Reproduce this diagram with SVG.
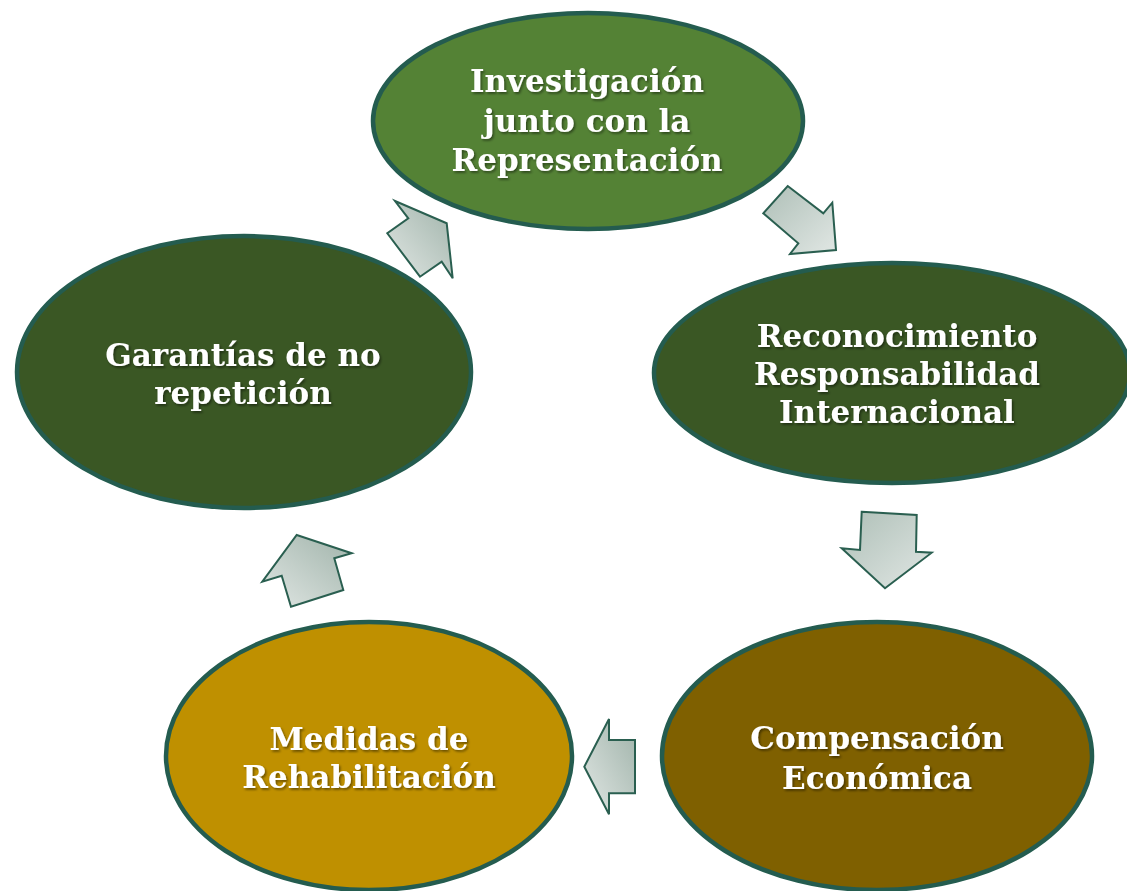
<svg xmlns="http://www.w3.org/2000/svg" width="1127" height="891" viewBox="0 0 1127 891">
  <defs>
    <linearGradient id="gA" x1="0" y1="1" x2="1" y2="0">
      <stop offset="0" stop-color="#e1e7e4"/>
      <stop offset="1" stop-color="#a0b3aa"/>
    </linearGradient>
    <linearGradient id="gB" x1="0" y1="0" x2="1" y2="1">
      <stop offset="0" stop-color="#aebfb7"/>
      <stop offset="1" stop-color="#e1e7e4"/>
    </linearGradient>
    <filter id="ts" x="-10%" y="-20%" width="130%" height="150%">
      <feDropShadow dx="1.5" dy="1.8" stdDeviation="1.2" flood-color="#000" flood-opacity="0.45"/>
    </filter>
  </defs>
  <style>
    .node { stroke: #245c4f; stroke-width: 4.5; }
    .lbl { font-family: "DejaVu Serif", "Liberation Serif", serif; font-weight: bold; font-size: 31px; fill: #ffffff; text-anchor: middle; filter: url(#ts); }
    .arr { stroke: #2a5f50; stroke-width: 2; stroke-linejoin: miter; }
  </style>
  <rect width="1127" height="891" fill="#ffffff"/>

  <g id="connectors">
    <polygon class="arr" fill="url(#gA)" points="395,201 446.7,223.3 452.7,278.3 441.7,261.7 420,276.7 387.3,233.3 408.3,218.3"/>
    <polygon class="arr" fill="url(#gB)" points="787.7,186 823.3,213.3 832.3,202.7 836,250 790,254 798.3,243.3 763.3,213.3"/>
    <polygon class="arr" fill="url(#gB)" points="861.7,511.7 916.7,515 916,551.7 931.7,552.7 885,588.3 841.7,548.3 860,550"/>
    <polygon class="arr" fill="url(#gA)" points="584.3,766.7 609,719 609,740 635,740 635,793.3 609,793.3 609,814.3"/>
    <polygon class="arr" fill="url(#gA)" points="296.7,535 351.7,553.3 334.3,558.3 343.3,590 291,606.7 281.7,575.7 262.3,581.7"/>
  </g>

  <g id="node-investigacion">
    <ellipse class="node" cx="588" cy="121" rx="215" ry="108" fill="#548235"/>
    <text class="lbl" x="587" y="92">Investigación</text>
    <text class="lbl" x="587" y="132">junto con la</text>
    <text class="lbl" x="587" y="171">Representación</text>
  </g>

  <g id="node-reconocimiento">
    <ellipse class="node" cx="892" cy="373" rx="238" ry="110" fill="#3a5724"/>
    <text class="lbl" x="897" y="347">Reconocimiento</text>
    <text class="lbl" x="897" y="385">Responsabilidad</text>
    <text class="lbl" x="897" y="423">Internacional</text>
  </g>

  <g id="node-compensacion">
    <ellipse class="node" cx="877" cy="756" rx="215" ry="134" fill="#7f6000"/>
    <text class="lbl" x="877" y="749">Compensación</text>
    <text class="lbl" x="877" y="789">Económica</text>
  </g>

  <g id="node-medidas">
    <ellipse class="node" cx="369" cy="756" rx="203" ry="134" fill="#bf9000"/>
    <text class="lbl" x="369" y="750">Medidas de</text>
    <text class="lbl" x="369" y="788">Rehabilitación</text>
  </g>

  <g id="node-garantias">
    <ellipse class="node" cx="244" cy="372" rx="227" ry="136" fill="#3a5724"/>
    <text class="lbl" x="243" y="366">Garantías de no</text>
    <text class="lbl" x="243" y="404">repetición</text>
  </g>
</svg>
